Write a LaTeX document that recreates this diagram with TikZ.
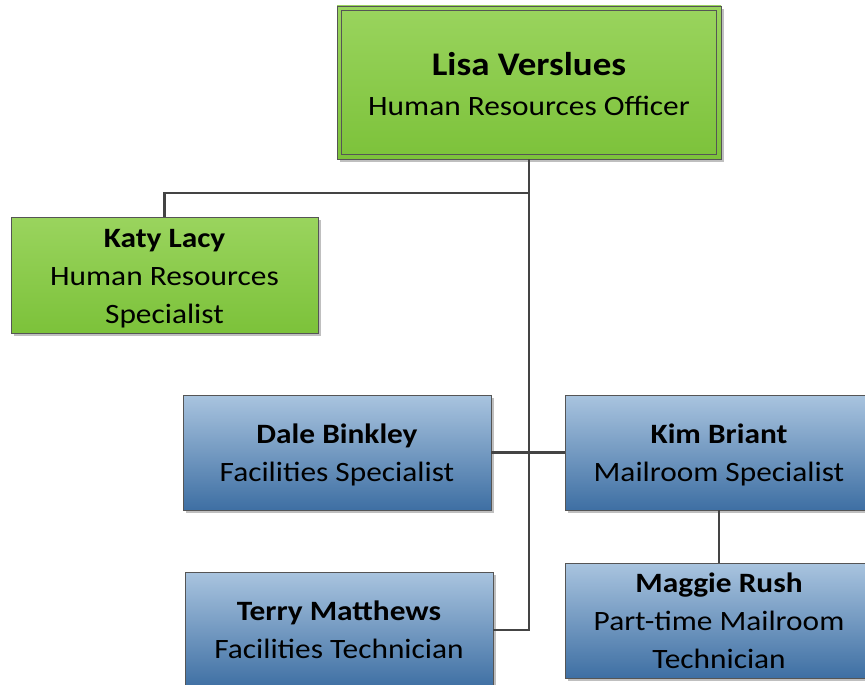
\documentclass[tikz,border=0pt]{standalone}
\usepackage{fontspec}
\setmainfont{Carlito}[FakeStretch=1.12]
\usetikzlibrary{shadows}
\definecolor{gtop}{HTML}{9AD45E}
\definecolor{gbot}{HTML}{7CC23A}
\definecolor{btop}{HTML}{A9C4DF}
\definecolor{bbot}{HTML}{3E6FA3}
\definecolor{edge}{HTML}{555555}
\definecolor{conn}{HTML}{444444}
\newcommand{\lift}[1]{\rule{0pt}{#1}}
\tikzset{
  box/.style={rectangle, draw=edge, line width=0.9pt, align=center, inner sep=0pt,
    drop shadow={shadow xshift=3pt, shadow yshift=-3pt, opacity=0.25, fill=black},
    font=\fontsize{28}{38}\selectfont, text=black},
  greenbox/.style={box, top color=gtop, bottom color=gbot},
  bluebox/.style={box, top color=btop, bottom color=bbot},
  link/.style={draw=conn, line width=2.4pt},
}
\begin{document}
\begin{tikzpicture}[x=1pt,y=-1pt]
\path[use as bounding box, clip] (0,0) rectangle (865,685);
\node[greenbox, minimum width=384pt, minimum height=153pt, font=\fontsize{28}{40}\selectfont] (lisa) at (529,82.5)
  {\lift{27pt}{\fontsize{33}{40}\selectfont\bfseries Lisa Verslues}\\Human Resources Officer};
\draw[edge, line width=0.9pt] ([shift={(5pt,-5pt)}]lisa.north west) rectangle ([shift={(-5pt,5pt)}]lisa.south east);
\node[greenbox, minimum width=307pt, minimum height=116pt] (katy) at (164.5,275)
  {\lift{25pt}\textbf{Katy Lacy}\\Human Resources\\Specialist};
\node[bluebox, minimum width=308pt, minimum height=115pt] (dale) at (337,452.5)
  {\lift{24pt}\textbf{Dale Binkley}\\Facilities Specialist};
\node[bluebox, minimum width=308pt, minimum height=115pt] (kim) at (719,452.5)
  {\lift{24pt}\textbf{Kim Briant}\\Mailroom Specialist};
\node[bluebox, minimum width=308pt, minimum height=116pt] (terry) at (339,630)
  {\textbf{Terry Matthews}\\Facilities Technician};
\node[bluebox, minimum width=308pt, minimum height=115pt] (maggie) at (719,620.5)
  {\textbf{Maggie Rush}\\Part-time Mailroom\\Technician};
\coordinate (j1) at (529,193);
\draw[link] (lisa.south) -- (lisa.south |- terry.east) -- (terry.east);
\draw[link] (j1) -| (katy.north);
\draw[link] (dale.east) -- (kim.west);
\draw[link] (kim.south) -- (maggie.north);
\end{tikzpicture}
\end{document}
